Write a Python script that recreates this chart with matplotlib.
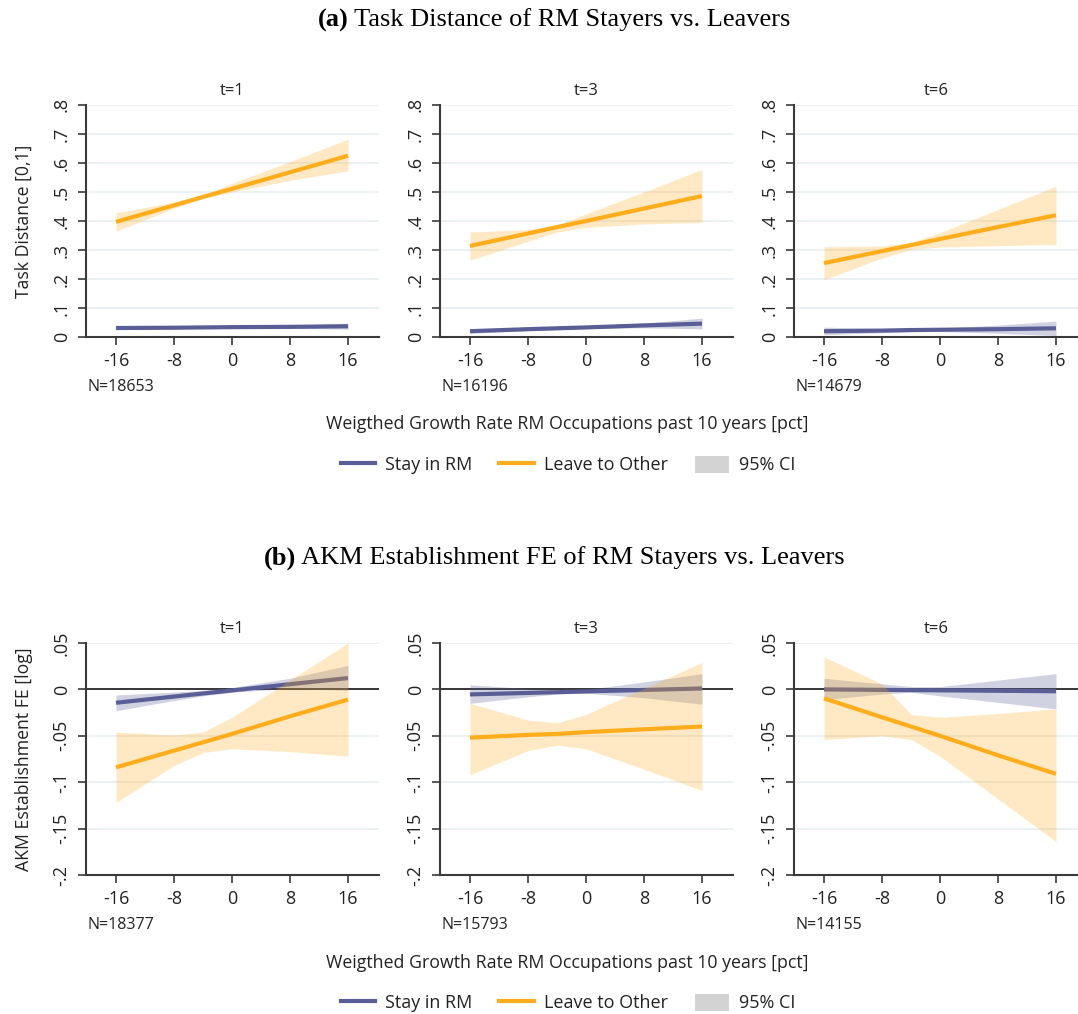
import matplotlib
matplotlib.use("Agg")
import matplotlib.pyplot as plt
from matplotlib.lines import Line2D
from matplotlib.patches import Patch

# ---------------- data ----------------
growth = [-16, -8, -4, 0, 8, 16]          # evaluation grid (pct)
periods = ["t=1", "t=3", "t=6"]

# Panel (a): task distance
task_n = ["N=18653", "N=16196", "N=14679"]
task_stay = [
    [0.031, 0.032, 0.033, 0.034, 0.035, 0.037],
    [0.020, 0.027, 0.030, 0.033, 0.040, 0.046],
    [0.020, 0.022, 0.024, 0.025, 0.027, 0.030],
]
task_stay_lo = [
    [0.027, 0.029, 0.030, 0.031, 0.030, 0.027],
    [0.013, 0.022, 0.026, 0.029, 0.032, 0.028],
    [0.008, 0.015, 0.018, 0.019, 0.013, 0.005],
]
task_stay_hi = [
    [0.035, 0.035, 0.036, 0.037, 0.040, 0.048],
    [0.027, 0.032, 0.034, 0.037, 0.048, 0.065],
    [0.034, 0.029, 0.030, 0.031, 0.041, 0.055],
]
task_leave = [
    [0.397, 0.454, 0.483, 0.511, 0.568, 0.625],
    [0.314, 0.357, 0.379, 0.400, 0.443, 0.486],
    [0.255, 0.296, 0.317, 0.338, 0.379, 0.420],
]
task_leave_lo = [
    [0.365, 0.444, 0.478, 0.500, 0.540, 0.573],
    [0.265, 0.330, 0.362, 0.378, 0.390, 0.395],
    [0.198, 0.272, 0.302, 0.310, 0.315, 0.319],
]
task_leave_hi = [
    [0.428, 0.465, 0.489, 0.530, 0.605, 0.682],
    [0.362, 0.370, 0.385, 0.425, 0.500, 0.578],
    [0.311, 0.314, 0.325, 0.360, 0.440, 0.520],
]

# Panel (b): AKM establishment fixed effect
akm_n = ["N=18377", "N=15793", "N=14155"]
akm_stay = [
    [-0.0144, -0.0077, -0.0044, -0.0011, 0.0056, 0.0122],
    [-0.0054, -0.0038, -0.0030, -0.0022, -0.0006, 0.0010],
    [0.0000, -0.0005, -0.0008, -0.0010, -0.0015, -0.0020],
]
akm_stay_lo = [
    [-0.023, -0.012, -0.007, -0.003, 0.001, -0.001],
    [-0.015, -0.008, -0.005, -0.004, -0.009, -0.016],
    [-0.011, -0.005, -0.003, -0.007, -0.014, -0.021],
]
akm_stay_hi = [
    [-0.006, -0.003, -0.001, 0.002, 0.012, 0.026],
    [0.005, 0.001, -0.001, 0.000, 0.008, 0.017],
    [0.012, 0.006, 0.003, 0.003, 0.010, 0.017],
]
akm_leave = [
    [-0.084, -0.066, -0.057, -0.048, -0.029, -0.011],
    [-0.052, -0.049, -0.048, -0.046, -0.043, -0.040],
    [-0.0097, -0.030, -0.040, -0.050, -0.071, -0.091],
]
akm_leave_lo = [
    [-0.122, -0.082, -0.068, -0.064, -0.067, -0.072],
    [-0.092, -0.066, -0.060, -0.064, -0.086, -0.109],
    [-0.054, -0.050, -0.054, -0.072, -0.118, -0.164],
]
akm_leave_hi = [
    [-0.046, -0.049, -0.046, -0.030, 0.010, 0.050],
    [-0.015, -0.033, -0.036, -0.027, 0.001, 0.029],
    [0.035, 0.006, -0.027, -0.030, -0.026, -0.021],
]

x_ticks = [-16, -8, 0, 8, 16]
task_yticks = [0, 0.1, 0.2, 0.3, 0.4, 0.5, 0.6, 0.7, 0.8]
task_yticklabels = ["0", ".1", ".2", ".3", ".4", ".5", ".6", ".7", ".8"]
akm_yticks = [-0.2, -0.15, -0.1, -0.05, 0, 0.05]
akm_yticklabels = ["-.2", "-.15", "-.1", "-.05", "0", ".05"]

# ---------------- style ----------------
NAVY = "#5a5e96"
ORANGE = "#ffad1c"
GRID = "#e8eef1"
SPINE = "#3a3a3a"
TXT = "#222222"
plt.rcParams["font.family"] = ["Open Sans", "DejaVu Sans"]

W, H = 1078, 1014
fig = plt.figure(figsize=(W / 100, H / 100), dpi=100)

lefts = [86, 440, 794]
rights = [379, 733, 1078]
px_per_unit = 7.25
xmin = -16 - 30 / px_per_unit


def draw_row(top_px, bottom_px, stay, slo, shi, leave, llo, lhi, ns,
             yticks, yticklabels, ylim, ylabel, zero_line):
    for i in range(3):
        l, r = lefts[i], rights[i]
        ax = fig.add_axes([l / W, 1 - bottom_px / H, (r - l) / W, (bottom_px - top_px) / H])
        ax.set_xlim(xmin, xmin + (r - l) / px_per_unit)
        ax.set_ylim(*ylim)
        for y in yticks:
            if zero_line and y == 0:
                continue
            ax.axhline(y, color=GRID, lw=1.2, zorder=0)
        if zero_line:
            ax.axhline(0, color="black", lw=1.1, zorder=1)
        ax.fill_between(growth, slo[i], shi[i], color=NAVY, alpha=0.28, lw=0, zorder=2)
        ax.plot(growth, stay[i], color=NAVY, lw=3.0, zorder=3, solid_capstyle="butt")
        ax.fill_between(growth, llo[i], lhi[i], color=ORANGE, alpha=0.26, lw=0, zorder=4)
        ax.plot(growth, leave[i], color=ORANGE, lw=3.0, zorder=5, solid_capstyle="butt")

        ax.set_xticks(x_ticks)
        ax.set_xticklabels([str(v) for v in x_ticks])
        ax.set_yticks(yticks)
        ax.set_yticklabels(yticklabels, rotation=90, va="center")
        ax.tick_params(axis="both", length=6, width=1.2, color=SPINE,
                       labelsize=13, labelcolor=TXT, pad=5)
        for s in ("top", "right"):
            ax.spines[s].set_visible(False)
        for s in ("left", "bottom"):
            ax.spines[s].set_color(SPINE)
            ax.spines[s].set_linewidth(1.5)
        ax.set_title(periods[i], fontsize=12, color=TXT, pad=7)
        ax.text(0.005, -0.215, ns[i], transform=ax.transAxes, fontsize=11.5,
                color=TXT, ha="left", va="center")
        if i == 0:
            ax.set_ylabel(ylabel, fontsize=12.7, color=TXT, labelpad=14)


draw_row(105, 337, task_stay, task_stay_lo, task_stay_hi,
         task_leave, task_leave_lo, task_leave_hi, task_n,
         task_yticks, task_yticklabels, (0, 0.8), "Task Distance [0,1]", False)
draw_row(643, 875, akm_stay, akm_stay_lo, akm_stay_hi,
         akm_leave, akm_leave_lo, akm_leave_hi, akm_n,
         akm_yticks, akm_yticklabels, (-0.2, 0.05), "AKM Establishment FE [log]", True)

# panel headings: bold tag followed by regular serif text, centred as one line
serif = ["Liberation Serif", "DejaVu Serif"]
renderer = fig.canvas.get_renderer()
for y_px, tag, rest in [(20, "(a)", "Task Distance of RM Stayers vs. Leavers"),
                        (558, "(b)", "AKM Establishment FE of RM Stayers vs. Leavers")]:
    bold = fig.text(0, 1 - y_px / H, tag, fontsize=19, family=serif,
                    fontweight="bold", va="center")
    norm = fig.text(0, 1 - y_px / H, " " + rest, fontsize=19, family=serif, va="center")
    wb = bold.get_window_extent(renderer).width
    wn = norm.get_window_extent(renderer).width
    x0 = 554 - (wb + wn) / 2
    bold.set_x(x0 / W)
    norm.set_x((x0 + wb) / W)

for y_px in (424, 963):
    fig.text(567 / W, 1 - y_px / H,
             "Weigthed Growth Rate RM Occupations past 10 years [pct]",
             fontsize=12.8, color=TXT, ha="center", va="center")

handles = [Line2D([], [], color=NAVY, lw=3),
           Line2D([], [], color=ORANGE, lw=3),
           Patch(facecolor="#d3d3d3", edgecolor="none")]
labels = ["Stay in RM", "Leave to Other", "95% CI"]
for y_px in (465, 1003):
    fig.legend(handles, labels, loc="center", bbox_to_anchor=(568 / W, 1 - y_px / H),
               ncol=3, frameon=False, fontsize=13, handlelength=1.9, handleheight=1.1,
               columnspacing=1.5, handletextpad=0.55, labelcolor=TXT)

fig.savefig("out.png", dpi=100)
